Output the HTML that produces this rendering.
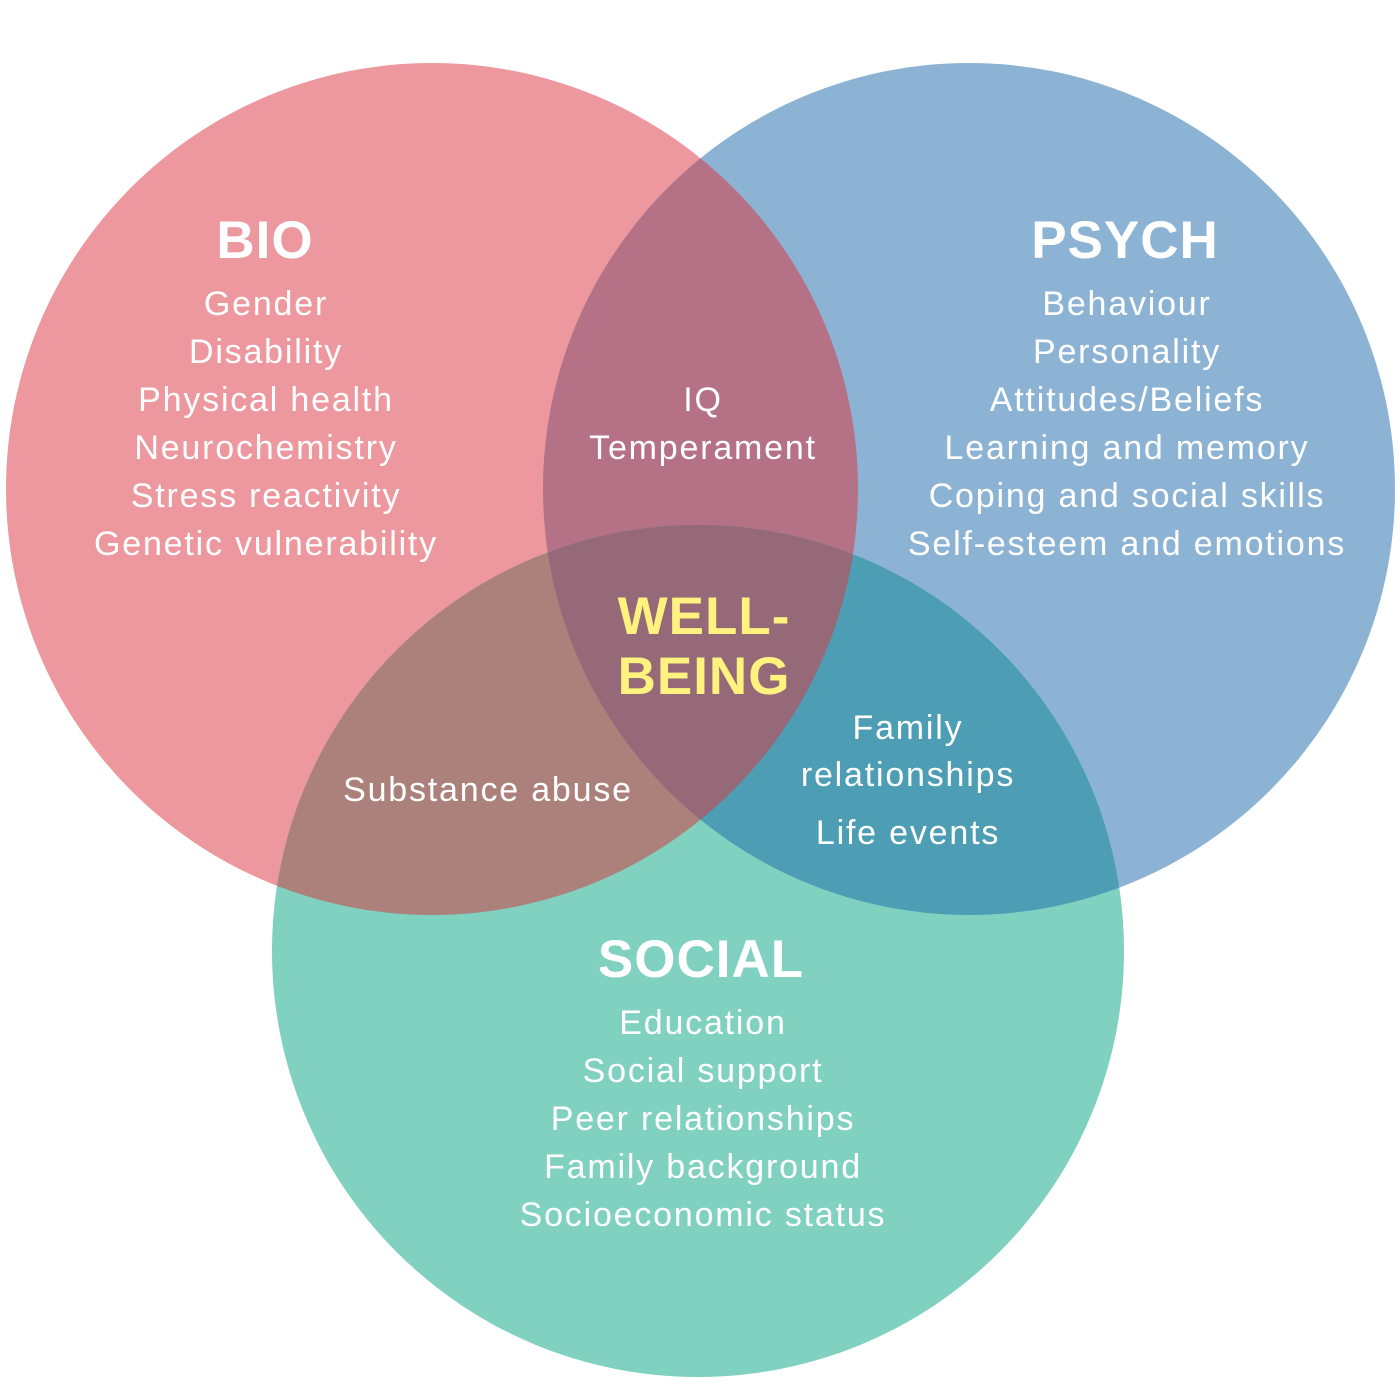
<!DOCTYPE html>
<html><head><style>html,body{margin:0;padding:0;background:#fff}svg{display:block}
text{font-family:"Liberation Sans",sans-serif;fill:#fff;text-anchor:middle}
.h{font-size:53px;font-weight:bold;letter-spacing:1px}.t{font-size:34px;letter-spacing:1.8px}</style></head><body>
<svg width="1400" height="1400" viewBox="0 0 1400 1400">
<defs>
<clipPath id="b"><circle cx="432" cy="489" r="426"/></clipPath>
<clipPath id="p"><circle cx="969" cy="489" r="426"/></clipPath>
<clipPath id="s"><circle cx="698" cy="951" r="426"/></clipPath>
</defs>
<circle cx="432" cy="489" r="426" fill="#ED989E"/>
<circle cx="969" cy="489" r="426" fill="#8DB3D4"/>
<circle cx="698" cy="951" r="426" fill="#80D1BF"/>
<circle cx="969" cy="489" r="426" fill="#B57286" clip-path="url(#b)"/>
<circle cx="698" cy="951" r="426" fill="#AC817B" clip-path="url(#b)"/>
<circle cx="698" cy="951" r="426" fill="#4D9EB5" clip-path="url(#p)"/>
<g clip-path="url(#b)"><circle cx="698" cy="951" r="426" fill="#956978" clip-path="url(#p)"/></g>
<text class="h" x="265" y="258">BIO</text>
<text class="t" x="266" y="315">Gender</text>
<text class="t" x="266" y="363">Disability</text>
<text class="t" x="266" y="411">Physical health</text>
<text class="t" x="266" y="459">Neurochemistry</text>
<text class="t" x="266" y="507">Stress reactivity</text>
<text class="t" x="266" y="555">Genetic vulnerability</text>
<text class="h" x="1125" y="258">PSYCH</text>
<text class="t" x="1127" y="315">Behaviour</text>
<text class="t" x="1127" y="363">Personality</text>
<text class="t" x="1127" y="411">Attitudes/Beliefs</text>
<text class="t" x="1127" y="459">Learning and memory</text>
<text class="t" x="1127" y="507">Coping and social skills</text>
<text class="t" x="1127" y="555">Self-esteem and emotions</text>
<text class="t" x="703" y="411">IQ</text>
<text class="t" x="703" y="459">Temperament</text>
<text class="h" x="704" y="634" style="fill:#FFF27F">WELL-</text>
<text class="h" x="704" y="694" style="fill:#FFF27F">BEING</text>
<text class="t" x="488" y="801">Substance abuse</text>
<text class="t" x="908" y="739">Family</text>
<text class="t" x="908" y="786">relationships</text>
<text class="t" x="908" y="844">Life events</text>
<text class="h" x="701" y="977">SOCIAL</text>
<text class="t" x="703" y="1034">Education</text>
<text class="t" x="703" y="1082">Social support</text>
<text class="t" x="703" y="1130">Peer relationships</text>
<text class="t" x="703" y="1178">Family background</text>
<text class="t" x="703" y="1226">Socioeconomic status</text>
</svg></body></html>
